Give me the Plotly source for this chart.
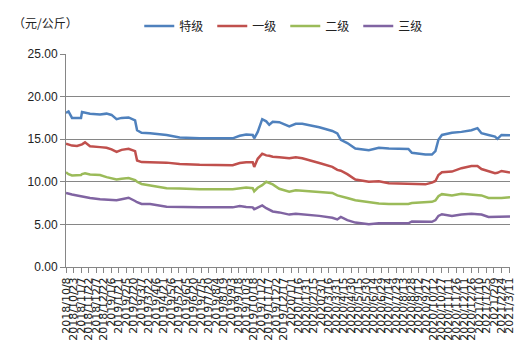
import plotly.graph_objects as go

dates = [
    "2018-10-08", "2018-10-13", "2018-10-20", "2018-10-30", "2018-11-07", "2018-11-09",
    "2018-11-15", "2018-11-25", "2018-12-15", "2018-12-28", "2019-01-07", "2019-01-17",
    "2019-01-27", "2019-02-10", "2019-02-23", "2019-02-27", "2019-03-08", "2019-03-25",
    "2019-04-27", "2019-05-23", "2019-07-02", "2019-09-06", "2019-09-20", "2019-10-03",
    "2019-10-16", "2019-10-19", "2019-10-26", "2019-11-04", "2019-11-12", "2019-11-18",
    "2019-11-25", "2019-12-08", "2019-12-28", "2020-01-10", "2020-01-23", "2020-02-26",
    "2020-03-23", "2020-04-02", "2020-04-09", "2020-04-22", "2020-05-08", "2020-06-04",
    "2020-06-24", "2020-07-14", "2020-08-22", "2020-08-29", "2020-09-25", "2020-10-08",
    "2020-10-15", "2020-10-21", "2020-10-28", "2020-11-17", "2020-12-06", "2020-12-26",
    "2021-01-07", "2021-01-15", "2021-01-29", "2021-02-11", "2021-02-16", "2021-02-24",
    "2021-03-13",
]

special = [
    18.10, 18.25, 17.50, 17.50, 17.50, 18.20, 18.10, 18.00, 17.90, 18.00, 17.85, 17.35,
    17.50, 17.55, 17.20, 16.05, 15.75, 15.70, 15.50, 15.20, 15.10, 15.10, 15.40, 15.55,
    15.50, 15.10, 15.85, 17.35, 17.10, 16.70, 17.05, 17.00, 16.50, 16.80, 16.80, 16.40,
    15.97, 15.67, 14.93, 14.55, 13.90, 13.70, 14.00, 13.90, 13.85, 13.40, 13.20, 13.20,
    13.60, 14.93, 15.50, 15.75, 15.86, 16.05, 16.30, 15.70, 15.50, 15.30, 15.04, 15.50,
    15.45,
]

grade1 = [
    14.48, 14.35, 14.25, 14.20, 14.30, 14.40, 14.63, 14.18, 14.07, 14.00, 13.80, 13.50,
    13.75, 13.88, 13.60, 12.50, 12.31, 12.30, 12.25, 12.10, 12.00, 11.94, 12.20, 12.30,
    12.30, 11.75, 12.70, 13.30, 13.10, 13.05, 12.95, 12.87, 12.76, 12.87, 12.76, 12.20,
    11.75, 11.40, 11.30, 10.90, 10.26, 10.00, 10.07, 9.84, 9.80, 9.75, 9.70, 9.90,
    10.10, 10.80, 11.12, 11.20, 11.60, 11.86, 11.86, 11.50, 11.20, 11.00, 11.05, 11.27,
    11.08,
]

grade2 = [
    11.12, 10.90, 10.74, 10.75, 10.80, 10.90, 11.00, 10.85, 10.80, 10.55, 10.40, 10.26,
    10.35, 10.45, 10.20, 10.00, 9.75, 9.55, 9.25, 9.20, 9.14, 9.14, 9.20, 9.33,
    9.25, 8.88, 9.30, 9.60, 10.00, 9.87, 9.70, 9.18, 8.84, 9.00, 8.95, 8.84,
    8.70, 8.40, 8.27, 8.10, 7.83, 7.60, 7.46, 7.40, 7.40, 7.50, 7.60, 7.65,
    7.80, 8.30, 8.55, 8.40, 8.60, 8.50, 8.45, 8.40, 8.10, 8.10, 8.10, 8.10,
    8.20,
]

grade3 = [
    8.69, 8.60, 8.50, 8.40, 8.30, 8.25, 8.20, 8.10, 7.95, 7.90, 7.90, 7.83,
    7.95, 8.13, 7.75, 7.60, 7.40, 7.38, 7.08, 7.02, 7.00, 7.00, 7.16, 7.05,
    7.00, 6.78, 6.95, 7.23, 6.90, 6.75, 6.52, 6.41, 6.15, 6.26, 6.20, 6.00,
    5.77, 5.58, 5.87, 5.50, 5.21, 5.02, 5.13, 5.13, 5.13, 5.35, 5.30, 5.30,
    5.50, 6.00, 6.20, 6.00, 6.15, 6.26, 6.20, 6.15, 5.87, 5.90, 5.92, 5.94,
    5.94,
]

series_names = ["特级", "一级", "二级", "三级"]
series_values = [special, grade1, grade2, grade3]
colors = ["#4F81BD", "#C0504D", "#9BBB59", "#8064A2"]

fig = go.Figure()
for name, vals, col in zip(series_names, series_values, colors):
    fig.add_trace(go.Scatter(
        x=dates, y=vals, name=name, mode="lines",
        line=dict(color=col, width=2.5),
    ))

axis_gray = "#868686"
num_font = dict(family="Liberation Sans, Arial, sans-serif", size=12, color="#222222")

fig.update_layout(
    width=528, height=354,
    margin=dict(l=66, r=16, t=45, b=87),
    paper_bgcolor="white", plot_bgcolor="white",
    showlegend=True,
    legend=dict(
        orientation="h", x=0.165, y=1.2, xanchor="left", yanchor="top",
        font=dict(family="Noto Sans CJK SC", size=12, color="#222222"),
        entrywidth=28, entrywidthmode="pixels",
        itemwidth=30, bgcolor="rgba(0,0,0,0)",
    ),
    xaxis=dict(
        type="date",
        range=["2018-10-08", "2021-03-13"],
        tickmode="linear", tick0="2018-10-08", dtick=15 * 86400000,
        tickformat="%Y/%-m/%-d", tickangle=-90,
        ticks="outside", ticklen=5, tickcolor=axis_gray,
        showline=True, linecolor=axis_gray, linewidth=1,
        showgrid=False, zeroline=False,
        tickfont=dict(family="DejaVu Sans", size=11, color="#222222"),
    ),
    yaxis=dict(
        range=[0, 25], dtick=5, tickformat=".2f",
        ticks="outside", ticklen=5, tickcolor=axis_gray,
        showline=True, linecolor=axis_gray, linewidth=1,
        showgrid=True, gridcolor=axis_gray, gridwidth=1,
        zeroline=False, tickfont=num_font,
    ),
    annotations=[dict(
        text="（元/公斤）", xref="paper", yref="paper",
        x=-0.125, y=1.15, xanchor="left", yanchor="middle",
        showarrow=False,
        font=dict(family="Noto Sans CJK SC", size=12, color="#222222"),
    )],
)

fig.write_html("out.html")
